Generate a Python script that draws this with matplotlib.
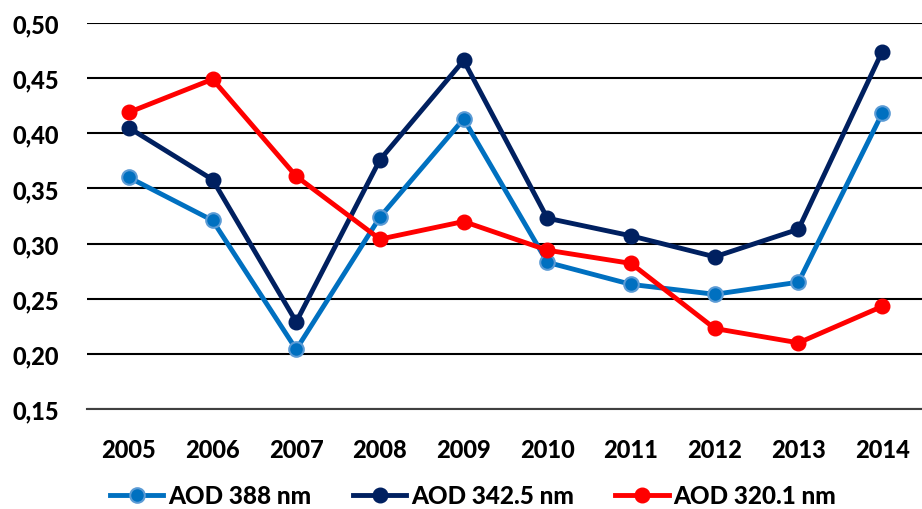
import matplotlib
matplotlib.use("Agg")
import matplotlib.pyplot as plt
from matplotlib.ticker import FuncFormatter

# Annual aerosol optical depth at three wavelengths
years = ["2005", "2006", "2007", "2008", "2009", "2010", "2011", "2012", "2013", "2014"]
aod_388 = [0.360, 0.321, 0.204, 0.324, 0.413, 0.283, 0.263, 0.254, 0.265, 0.418]
aod_3425 = [0.405, 0.358, 0.229, 0.376, 0.466, 0.323, 0.307, 0.288, 0.313, 0.474]
aod_3201 = [0.419, 0.449, 0.361, 0.304, 0.320, 0.294, 0.282, 0.223, 0.210, 0.243]
yticks = [0.15, 0.20, 0.25, 0.30, 0.35, 0.40, 0.45, 0.50]

plt.rcParams['font.family'] = ['Lato', 'DejaVu Sans']

fig = plt.figure(figsize=(9.22, 5.10), dpi=100)
W, H = 922, 510
# plot area: left edge at 87px, category width ~83.7px, runs off the right edge
ax = fig.add_axes([87 / W, (H - 410) / H, 837 / W, (410 - 24) / H])

x = list(range(len(years)))
ax.plot(x, aod_388, color='#0070C0', lw=3.5, marker='o', ms=10.5,
        mfc='#0070C0', mec='#5B9BD5', mew=1.5, label='AOD 388 nm', zorder=3)
ax.plot(x, aod_3425, color='#002060', lw=3.5, marker='o', ms=10.5,
        mfc='#002060', mec='#002060', label='AOD 342.5 nm', zorder=3)
ax.plot(x, aod_3201, color='#FF0000', lw=3.5, marker='o', ms=10.5,
        mfc='#FF0000', mec='#FF0000', label='AOD 320.1 nm', zorder=3)

ax.set_ylim(0.15, 0.50)
ax.set_xlim(-0.5, 9.5)
ax.set_yticks(yticks)
ax.yaxis.set_major_formatter(FuncFormatter(lambda v, p: f"{v:.2f}".replace('.', ',')))
ax.set_xticks(x)
ax.set_xticklabels(years)
ax.grid(axis='y', color='black', lw=1.5, zorder=1)
ax.set_axisbelow(True)
for s in ['top', 'right', 'left']:
    ax.spines[s].set_visible(False)
ax.spines['bottom'].set_color('#404040')
ax.spines['bottom'].set_linewidth(1.5)
ax.tick_params(length=0, labelsize=17)
ax.tick_params(axis='y', pad=20)
ax.tick_params(axis='x', pad=21)
for lab in ax.get_xticklabels() + ax.get_yticklabels():
    lab.set_fontweight('black')

fig.legend(loc='center left', bbox_to_anchor=(110 / W, 1 - 497 / H), ncol=3, frameon=False,
           prop={'size': 17.5, 'weight': 'black'}, handlelength=2.2,
           handletextpad=0.2, columnspacing=1.7, borderpad=0, borderaxespad=0)

fig.savefig('out.png', dpi=100)
